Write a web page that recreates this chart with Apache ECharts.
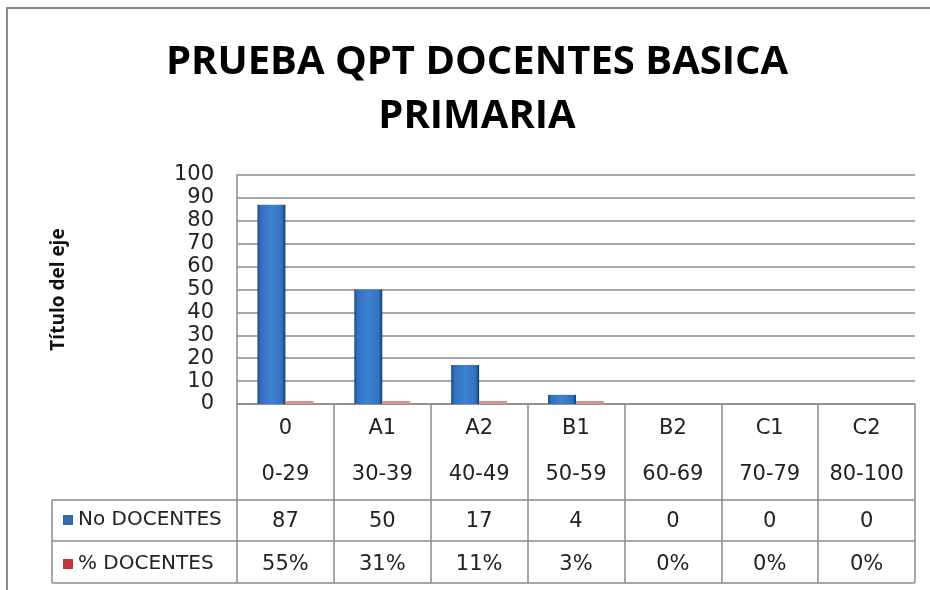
<!DOCTYPE html>
<html><head><meta charset="utf-8">
<script src="https://cdn.jsdelivr.net/npm/echarts@6/dist/echarts.min.js"></script>
<style>html,body{margin:0;padding:0;background:#fff}#c{width:930px;height:590px}</style>
</head><body><div id="c"></div>
<script>
const codes = ['0','A1','A2','B1','B2','C1','C2'];
const ranges = ['0-29','30-39','40-49','50-59','60-69','70-79','80-100'];
const noDocentes = [87,50,17,4,0,0,0];
const pctDocentes = [0.55,0.31,0.11,0.03,0,0,0];
const yTicks = [0,10,20,30,40,50,60,70,80,90,100];
const seriesNames = ['No DOCENTES','% DOCENTES'];

const FONT = 'DejaVu Sans';
const chart = echarts.init(document.getElementById('c'));
const G = {left:237, right:15, top:175, bottom:186};
const axisY = 590 - G.bottom;
const gray = '#8a8a8a';
const blueGrad = new echarts.graphic.LinearGradient(0,0,1,0,[
  {offset:0,color:'#1f4a86'},{offset:0.12,color:'#3170bd'},{offset:0.5,color:'#3f82d3'},
  {offset:0.88,color:'#3170bd'},{offset:1,color:'#183a6b'}]);
const lineStyle = {stroke:gray, lineWidth:1.5};
function hline(x1,x2,y){return {type:'line',shape:{x1:x1,y1:y,x2:x2,y2:y},style:lineStyle,silent:true};}
function vline(x,y1,y2){return {type:'line',shape:{x1:x,y1:y1,x2:x,y2:y2},style:lineStyle,silent:true};}
function hideZero(col){return function(p){return p.value ? col : 'rgba(0,0,0,0)';};}

chart.setOption({
  animation:false,
  title:{text:'PRUEBA QPT DOCENTES BASICA\nPRIMARIA', left:472, textAlign:'center', top:31,
    textStyle:{fontFamily:'Open Sans', fontWeight:'bold', fontSize:40, lineHeight:54, color:'#000'}},
  grid:G,
  legend:{orient:'vertical', left:58, top:504, itemGap:22, itemWidth:10, itemHeight:10, icon:'rect',
    textStyle:{fontFamily:FONT, fontSize:20, lineHeight:22, color:'#222'},
    data:[{name:seriesNames[0], itemStyle:{color:'#2f6bb5'}},{name:seriesNames[1], itemStyle:{color:'#c0393a'}}]},
  xAxis:{type:'category', data:codes,
    axisLine:{lineStyle:{color:gray,width:1.5}},
    axisTick:{show:true, length:179, lineStyle:{color:gray,width:1.5}},
    axisLabel:{margin:2, interval:0, fontFamily:FONT,
      formatter:function(v,i){return '{c|'+v+'}\n{r|'+ranges[i]+'}\n{v|'+noDocentes[i]+'}\n{p|'+Math.round(pctDocentes[i]*100)+'%}';},
      rich:{c:{fontFamily:FONT,fontSize:21,lineHeight:46,color:'#222'},
            r:{fontFamily:FONT,fontSize:21,lineHeight:46,color:'#222'},
            v:{fontFamily:FONT,fontSize:21,lineHeight:47,color:'#222'},
            p:{fontFamily:FONT,fontSize:21,lineHeight:40,color:'#222'}}}},
  yAxis:{type:'value', min:0, max:100, interval:10,
    name:'Título del eje', nameLocation:'middle', nameGap:169, nameRotate:90,
    nameTextStyle:{fontFamily:'Open Sans', fontWeight:'bold', fontSize:19, color:'#111'},
    axisLine:{show:true, lineStyle:{color:gray,width:1.5}},
    axisTick:{show:false},
    axisLabel:{margin:23, fontFamily:FONT, fontSize:21, color:'#222', lineHeight:16},
    splitLine:{lineStyle:{color:gray,width:1.5}}},
  series:[
    {name:seriesNames[0], type:'bar', data:noDocentes, barWidth:28, barGap:'0%',
      itemStyle:{color:blueGrad}},
    {name:seriesNames[1], type:'bar', data:pctDocentes, barWidth:28, barMinHeight:3,
      itemStyle:{color:hideZero('#d99391')}}
  ],
  graphic:[
    {type:'rect', shape:{x:7,y:8,width:940,height:600}, style:{fill:'none',stroke:'#8a8a8a',lineWidth:2}, silent:true, z:-1},
    hline(52,930-G.right,axisY+96),
    hline(52,930-G.right,axisY+137),
    hline(52,930-G.right,axisY+179),
    vline(52,axisY+96,axisY+179)
  ]
});
</script></body></html>
